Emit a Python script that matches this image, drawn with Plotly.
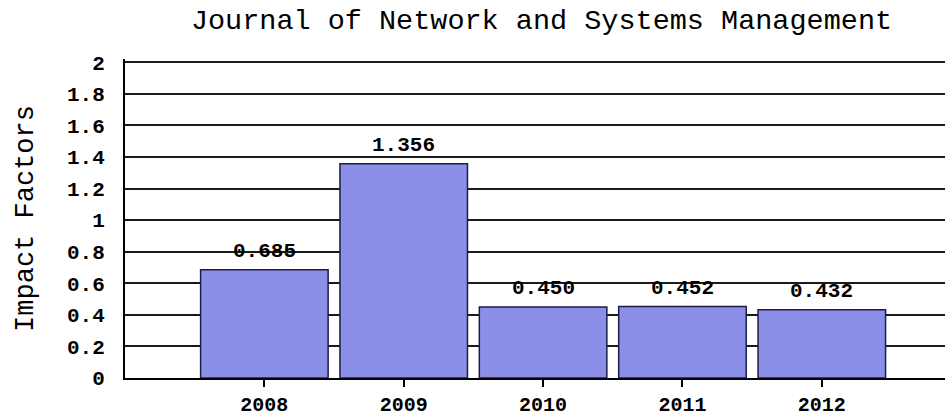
import plotly.graph_objects as go

years = ["2008", "2009", "2010", "2011", "2012"]
impact = [0.685, 1.356, 0.450, 0.452, 0.432]
y_ticks = [0, 0.2, 0.4, 0.6, 0.8, 1, 1.2, 1.4, 1.6, 1.8, 2]
y_tick_text = ["0", "0.2", "0.4", "0.6", "0.8", "1", "1.2", "1.4", "1.6", "1.8", "2"]

MONO = "Liberation Mono, DejaVu Sans Mono, monospace"

fig = go.Figure()
fig.add_trace(go.Bar(
    x=years, y=impact,
    marker=dict(color="#8B8FE8", line=dict(color="#1C1C48", width=1.5)),
    hoverinfo="skip",
))

for i, v in enumerate(impact):
    fig.add_annotation(
        x=i, y=v, xref="x", yref="y", text=f"{v:.3f}", showarrow=False,
        yanchor="bottom", yshift=5,
        font=dict(family=MONO, size=21, color="black", weight="bold"),
    )

fig.update_layout(
    width=945, height=417,
    margin=dict(l=125, r=0, t=59, b=39, autoexpand=False),
    paper_bgcolor="white", plot_bgcolor="white",
    bargap=0.085,
    showlegend=False,
    title=dict(
        text="Journal of Network and Systems Management",
        font=dict(family=MONO, size=28.5, color="black"),
        x=0.573, xanchor="center", y=0.955, yanchor="middle",
    ),
    xaxis=dict(
        type="category", range=[-1.0, 4.884], automargin=False,
        showgrid=False, showline=True, linecolor="black", linewidth=2,
        ticks="outside", ticklen=7, tickcolor="black", tickwidth=1.5,
        ticklabelstandoff=0,
        tickfont=dict(family=MONO, size=20, color="black", weight="bold"),
    ),
    yaxis=dict(
        range=[0, 2.02], tickvals=y_ticks, ticktext=y_tick_text, automargin=False,
        showgrid=True, gridcolor="#1a1a1a", gridwidth=1.5,
        zeroline=False, showline=True, linecolor="black", linewidth=2,
        ticks="", ticklabelstandoff=14,
        tickfont=dict(family=MONO, size=21, color="black", weight="bold"),
        title=dict(text="Impact Factors", standoff=26,
                   font=dict(family=MONO, size=27, color="black")),
    ),
)

fig.write_html("out.html")
